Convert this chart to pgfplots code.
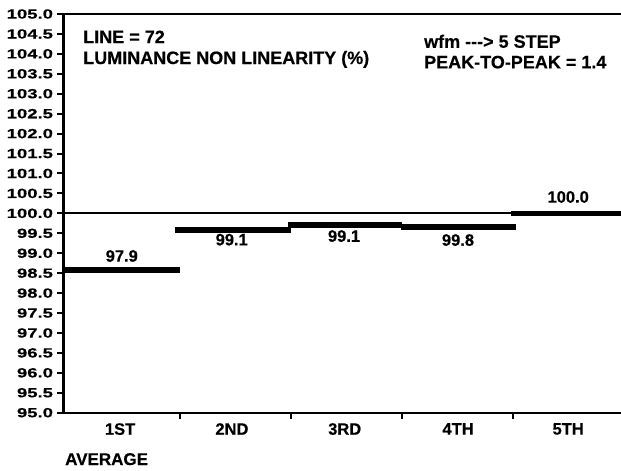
\documentclass[border=0pt]{standalone}
\usepackage{fontspec}
\setmainfont{Liberation Sans Bold}[FakeBold=0.4]
\usepackage{graphicx}
\usepackage{pgfplots}
\pgfplotsset{compat=1.18}

\begin{document}
\begin{tikzpicture}
\path[use as bounding box] (0,0) rectangle (621bp,471bp);
\begin{axis}[
    at={(63.5bp,58.3bp)}, anchor=south west,
    scale only axis,
    width=557.5bp, height=398.7bp,
    xmin=-0.039, xmax=4.975,
    ymin=95, ymax=105,
    separate axis lines,
    axis x line=box, axis y line=left,
    axis line style={-, line width=2bp},
    clip=false,
    tick align=outside,
    xtick pos=bottom,
    xtick={0.47,1.476,2.49,3.51,4.5},
    xticklabels={1ST,2ND,3RD,4TH,5TH},
    major x tick style={draw=none},
    minor xtick={1.007,2.006,3.003,4.007},
    minor tick length=6bp,
    minor x tick style={line width=2bp, black},
    ytick={95,95.5,...,105},
    major tick length=6bp,
    major y tick style={line width=2bp, black},
    scaled y ticks=false,
    yticklabel={\scalebox{1.39}[1]{\pgfmathprintnumber[fixed,fixed zerofill,precision=1,assume math mode=true]{\tick}}},
    yticklabel style={font=\fontsize{13.3bp}{14bp}\selectfont, xshift=-1bp},
    xticklabel style={font=\fontsize{16.5bp}{18bp}\selectfont, yshift=-1bp},
]
% 100 % reference line
\addplot[black, line width=2bp] coordinates {(-0.039,100) (4.975,100)};
% step averages
\addplot[black, line width=5.5bp] coordinates {(-0.039,98.58) (1.009,98.58)};
\addplot[black, line width=5.5bp] coordinates {(0.964,99.58) (2.007,99.58)};
\addplot[black, line width=5.5bp] coordinates {(1.98,99.71) (3.005,99.71)};
\addplot[black, line width=5.5bp] coordinates {(2.996,99.66) (4.03,99.66)};
\addplot[black, line width=5.5bp] coordinates {(3.985,100.0) (4.975,100.0)};

\begin{scope}[every node/.style={font=\fontsize{16.5bp}{18bp}\selectfont, inner sep=0pt}]
\node at (axis cs:0.485,98.93) {97.9};
\node at (axis cs:1.474,99.34) {99.1};
\node at (axis cs:2.484,99.43) {99.1};
\node at (axis cs:3.509,99.33) {99.8};
\node at (axis cs:4.5,100.41) {100.0};
\end{scope}

\begin{scope}[every node/.style={font=\fontsize{18bp}{20bp}\selectfont, inner sep=0pt, anchor=base west}]
\node at (axis cs:0.137,104.27) {LINE = 72};
\node at (axis cs:0.137,103.745) {LUMINANCE NON LINEARITY (\%)};
\node at (axis cs:3.203,104.153) {wfm -{}-{}-> 5 STEP};
\node at (axis cs:3.203,103.637) {PEAK-TO-PEAK = 1.4};
\end{scope}
\node[font=\fontsize{17bp}{19bp}\selectfont, inner sep=0pt, anchor=base west]
    at (rel axis cs:0,0) [xshift=1.5bp, yshift=-52.3bp] {AVERAGE};
\end{axis}
\end{tikzpicture}
\end{document}
